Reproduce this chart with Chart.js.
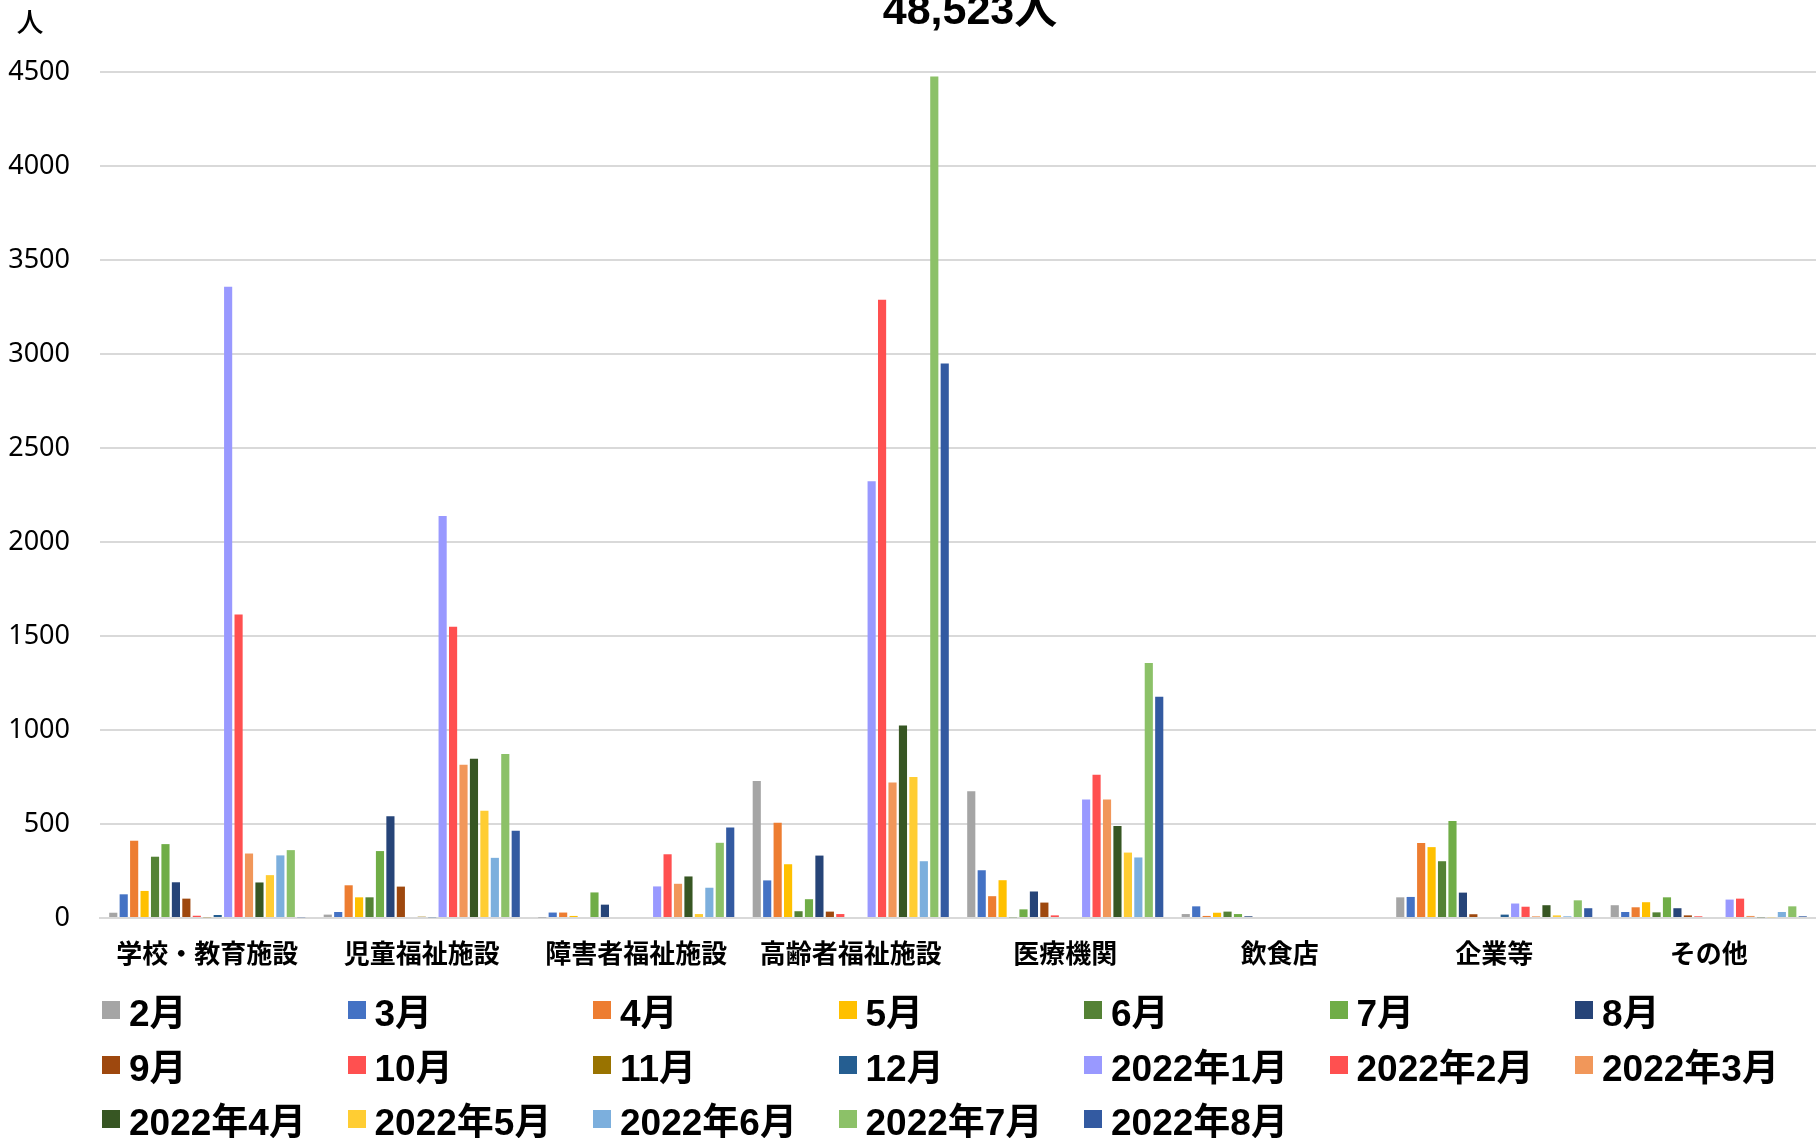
<!DOCTYPE html>
<html lang="ja">
<head>
<meta charset="utf-8">
<title>施設別 月別人数</title>
<script src="https://cdn.jsdelivr.net/npm/chart.js@4.4.1/dist/chart.umd.min.js"></script>
<style>
  html, body { margin: 0; padding: 0; background: #fff; }
  #wrap { position: relative; width: 1816px; height: 1138px; overflow: hidden; }
  #chart { position: absolute; left: 0; top: 0; }
  .legend-item {
    position: absolute;
    height: 40px;
    display: flex;
    align-items: center;
    font: bold 37px "Liberation Sans", "Noto Sans CJK JP", sans-serif;
    color: #000;
    white-space: nowrap;
  }
  .legend-box { width: 18px; height: 18px; margin-right: 9px; flex: none; }
</style>
</head>
<body>
<div id="wrap">
  <canvas id="chart" width="1816" height="1138"></canvas>
  <div id="legend"></div>
</div>
<script>
// 施設区分
const categories = ['学校・教育施設', '児童福祉施設', '障害者福祉施設', '高齢者福祉施設', '医療機関', '飲食店', '企業等', 'その他'];

// 月ごとの人数（施設区分の順）
const feb    = [28, 18, 2, 729, 674, 21, 110, 68];
const mar    = [126, 32, 29, 200, 254, 62, 112, 32];
const apr    = [411, 174, 29, 507, 116, 11, 399, 57];
const may    = [144, 110, 11, 286, 201, 28, 377, 84];
const jun    = [326, 110, 0, 36, 4, 34, 302, 30];
const jul    = [393, 356, 136, 100, 46, 21, 516, 110];
const aug    = [190, 541, 71, 332, 141, 9, 135, 52];
const sep    = [103, 167, 0, 34, 82, 0, 20, 14];
const oct    = [12, 0, 0, 21, 14, 0, 0, 9];
const nov    = [4, 7, 0, 0, 0, 0, 0, 0];
const dec    = [16, 4, 0, 0, 0, 0, 18, 0];
const jan22  = [3358, 2138, 168, 2323, 630, 0, 77, 98];
const feb22  = [1615, 1549, 339, 3288, 762, 0, 60, 103];
const mar22  = [343, 815, 182, 721, 630, 0, 9, 11];
const apr22  = [189, 847, 221, 1024, 490, 0, 68, 4];
const may22  = [228, 570, 21, 750, 348, 0, 14, 4];
const jun22  = [333, 320, 161, 302, 322, 0, 9, 32];
const jul22  = [361, 873, 400, 4476, 1357, 0, 94, 62];
const aug22  = [4, 464, 482, 2949, 1177, 0, 52, 9];

const seriesLabels = ['2月', '3月', '4月', '5月', '6月', '7月', '8月', '9月', '10月', '11月', '12月',
    '2022年1月', '2022年2月', '2022年3月', '2022年4月', '2022年5月', '2022年6月', '2022年7月', '2022年8月'];
const seriesValues = [feb, mar, apr, may, jun, jul, aug, sep, oct, nov, dec,
    jan22, feb22, mar22, apr22, may22, jun22, jul22, aug22];

const yTicks = [0, 500, 1000, 1500, 2000, 2500, 3000, 3500, 4000, 4500];
const totalLabel = '48,523人';
const unitLabel = '人';

const colors = ['#A5A5A5', '#4472C4', '#ED7D31', '#FFC000', '#548235', '#70AD47', '#264478',
    '#9E480E', '#FF5050', '#997300', '#255E91', '#9999FF', '#FF5050', '#F1975A',
    '#375623', '#FFCD33', '#7CAFDD', '#8CC168', '#335AA1'];

// タイトル（上端で切れている）と単位ラベル
const textPlugin = {
    id: 'textPlugin',
    afterDraw(chart) {
        const ctx = chart.ctx;
        ctx.save();
        ctx.fillStyle = '#000';
        ctx.textAlign = 'center';
        ctx.textBaseline = 'alphabetic';
        ctx.font = 'bold 43px "Liberation Sans", "Noto Sans CJK JP", sans-serif';
        ctx.fillText(totalLabel, 970, 24);
        ctx.textBaseline = 'middle';
        ctx.font = '500 27px "Noto Sans CJK JP", sans-serif';
        ctx.fillText(unitLabel, 30, 22);
        ctx.restore();
    }
};

const chart = new Chart(document.getElementById('chart'), {
    type: 'bar',
    data: {
        labels: categories,
        datasets: seriesLabels.map((label, i) => ({
            label: label,
            data: seriesValues[i],
            backgroundColor: colors[i],
            borderWidth: 0,
            categoryPercentage: 0.925,
            barPercentage: 0.78
        }))
    },
    options: {
        responsive: false,
        animation: false,
        layout: {
            padding: { top: 72, right: 0, bottom: 160, left: 0 }
        },
        plugins: {
            legend: { display: false },
            title: { display: false },
            tooltip: { enabled: false }
        },
        scales: {
            x: {
                grid: { display: false },
                border: { display: true, color: '#d9d9d9', width: 2 },
                ticks: {
                    color: '#000',
                    padding: 12,
                    maxRotation: 0,
                    autoSkip: false,
                    font: { family: '"Noto Sans CJK JP", sans-serif', size: 26, weight: 'bold' }
                },
                afterFit(scale) { scale.height = 60; }
            },
            y: {
                min: 0,
                max: 4500,
                afterBuildTicks(scale) {
                    scale.ticks = yTicks.map(v => ({ value: v }));
                },
                grid: { color: '#d9d9d9', lineWidth: 2, drawTicks: false },
                border: { display: false },
                ticks: {
                    color: '#000',
                    padding: 30,
                    font: { family: '"Noto Sans", sans-serif', size: 27 },
                    callback: (value) => String(value)
                },
                afterFit(scale) { scale.width = 100; }
            }
        }
    },
    plugins: [textPlugin]
});

// 凡例（7列の格子）
const legend = document.getElementById('legend');
seriesLabels.forEach((label, i) => {
    const col = i % 7;
    const row = Math.floor(i / 7);
    const item = document.createElement('div');
    item.className = 'legend-item';
    item.style.left = (102 + col * 245.5) + 'px';
    item.style.top = (990 + row * 54.5) + 'px';
    item.innerHTML = `<span class="legend-box" style="background:${colors[i]}"></span>${label}`;
    legend.appendChild(item);
});
</script>
</body>
</html>
